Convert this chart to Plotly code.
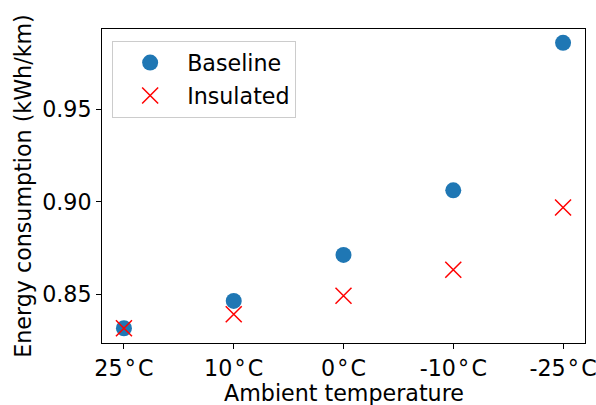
import plotly.graph_objects as go

categories = ["25\u200a°\u200aC", "10\u200a°\u200aC", "0\u200a°\u200aC", "-10\u200a°\u200aC", "-25\u200a°\u200aC"]
baseline = [0.8316, 0.8464, 0.8713, 0.9063, 0.9862]
insulated = [0.8316, 0.8392, 0.8492, 0.8633, 0.8970]

FONT = dict(family="DejaVu Sans", size=22.2, color="black")

fig = go.Figure()
fig.add_trace(go.Scatter(
    x=categories, y=baseline, mode="markers", name="Baseline",
    legendgroup="a",
    marker=dict(color="#1f77b4", size=16, symbol="circle", line=dict(width=0)),
))
fig.add_trace(go.Scatter(
    x=categories, y=insulated, mode="markers", name="Insulated",
    legendgroup="b",
    marker=dict(color="red", size=16, symbol="x-thin", line=dict(width=1.5, color="red")),
))

axis_common = dict(
    showline=True, linecolor="black", linewidth=1, mirror=True,
    ticks="outside", ticklen=5, tickwidth=1, tickcolor="black",
    showgrid=False, zeroline=False, tickfont=FONT, automargin=False,
)

fig.update_layout(
    width=596, height=405,
    margin=dict(l=102, r=11, t=29, b=62),
    paper_bgcolor="white", plot_bgcolor="white",
    font=FONT,
    xaxis=dict(
        type="category", range=[-0.2, 4.2],
        **axis_common,
    ),
    yaxis=dict(
        range=[0.8236, 0.9937],
        tickvals=[0.85, 0.90, 0.95], ticktext=["0.85", "0.90", "0.95"],
        title=dict(text="Energy consumption (kWh/km)", font=FONT, standoff=4),
        **axis_common,
    ),
    legend=dict(
        x=0.021, y=0.963, xanchor="left", yanchor="top",
        bgcolor="white", bordercolor="#cccccc", borderwidth=1,
        font=FONT, tracegroupgap=1, traceorder="grouped",
        itemwidth=64,
    ),
    showlegend=True,
    annotations=[dict(
        text="Ambient temperature", xref="paper", yref="paper",
        x=0.5, y=-0.158, xanchor="center", yanchor="middle",
        showarrow=False, font=FONT,
    )],
)

fig.write_html("out.html")
